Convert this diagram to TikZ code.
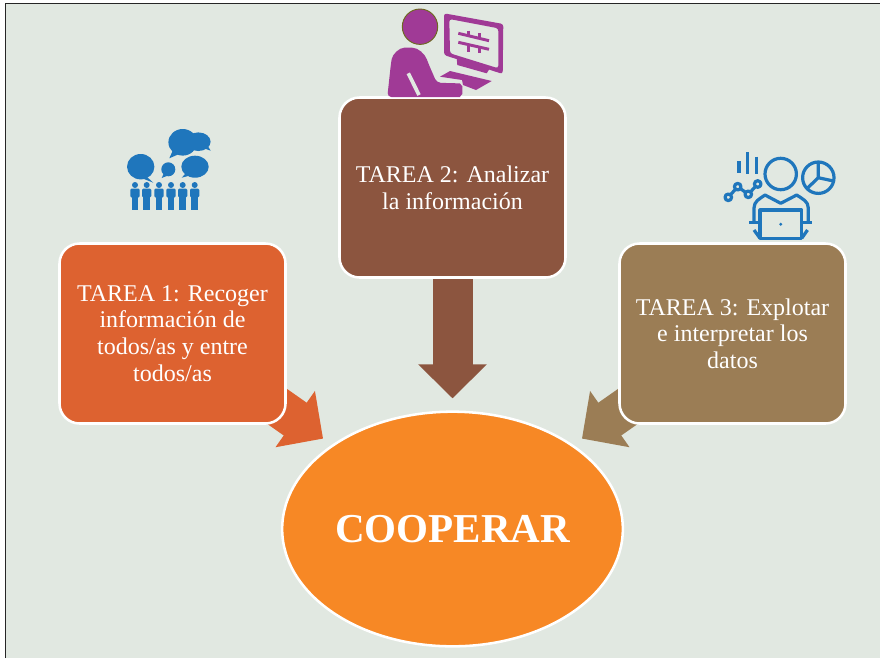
\documentclass[tikz,border=0pt]{standalone}
\usepackage{fontspec}
\setmainfont{Liberation Serif}
\usetikzlibrary{arrows.meta,backgrounds,shapes.geometric}
\definecolor{fondo}{HTML}{E1E8E1}
\definecolor{tareauno}{HTML}{DD6230}
\definecolor{tareados}{HTML}{8C553F}
\definecolor{tareatres}{HTML}{9B7D55}
\definecolor{meta}{HTML}{F78825}
\definecolor{azul}{HTML}{1F76BC}
\definecolor{morado}{HTML}{A03A96}
\tikzset{
  tarea/.style={draw=white,line width=1.9pt,rounded corners=15pt,minimum width=169.5pt,minimum height=135pt,
    inner sep=0pt,outer sep=0pt,text=white,align=center,font=\fontsize{18}{20}\selectfont},
  flecha/.style={line width=30pt,-{Triangle[length=25.5pt,width=50pt]},shorten <=-30pt},
  linea/.style={draw=azul,line width=2.4pt,line join=round}
}
\begin{document}
\begin{tikzpicture}[x=0.75pt,y=-0.75pt]
  \useasboundingbox (0,0) rectangle (880,658);
  \node[tarea,fill=tareauno](T1) at (172.5,333.5) {TAREA 1: Recoger\\información de\\todos/as y entre\\todos/as};
  \node[tarea,fill=tareados](T2) at (452.5,187.5) {TAREA 2: Analizar\\la información};
  \node[tarea,fill=tareatres](T3) at (732.5,333.5) {TAREA 3: Explotar\\e interpretar los\\datos};
  \node[ellipse,draw=white,line width=1.9pt,fill=meta,minimum width=255.5pt,minimum height=176pt,inner sep=0pt,outer sep=0pt,
    text=white,font=\fontsize{30.8}{34}\selectfont\bfseries](C) at (452.5,529) {\makebox[0pt]{COOPERAR}};
  \begin{scope}[on background layer]
    \fill[fondo] (5.5,3.5) rectangle (880,658);
    \draw[line width=1.1pt,black!85] (5.5,658) -- (5.5,3.5) -- (880,3.5);
    \draw[flecha,tareauno,shorten >=9pt] (T1) -- (C);
    \draw[flecha,tareados,shorten >=10pt] (T2) -- (C);
    \draw[flecha,tareatres,shorten >=9pt] (T3) -- (C);
  \end{scope}
  % personas
  \foreach \x in {135,146.7,159,171,182.7,194.7}{
    \fill[azul] (\x,185) circle (3);
    \fill[azul,rounded corners=1pt] (\x-4.6,188.5) rectangle (\x+4.6,197.5);
    \fill[azul] (\x-3.4,190) rectangle (\x-0.2,210);
    \fill[azul] (\x+0.2,190) rectangle (\x+3.4,210);
  }
  % bocadillos
  \fill[azul] (140.7,166.7) ellipse (13.7 and 12.7);
  \fill[azul] (147,177) -- (153.3,182.7) -- (144,179) -- cycle;
  \fill[azul] (168.3,169.3) circle (7);
  \fill[azul] (164,173) -- (161.7,178) -- (168,175.5) -- cycle;
  \fill[azul] (195,166.7) ellipse (13.7 and 11);
  \fill[azul] (186,173) -- (181.7,177.7) -- (190,175.5) -- cycle;
  \fill[azul] (198.3,141.7) ellipse (12.3 and 9.3);
  \fill[azul] (203,148) -- (210.7,150.7) -- (206,143) -- cycle;
  \fill[azul] (182.7,142.3) ellipse (14.3 and 13.3);
  \fill[azul] (173,150) -- (169.3,158.3) -- (178,154.5) -- cycle;
  % persona con ordenador
  \fill[morado,draw=olive!70!black,line width=0.7pt] (420,26.7) circle (17.7);
  \fill[morado,rounded corners=3pt] (387.3,97) -- (391,63) to[out=80,in=180] (408.3,47.7) to[out=0,in=110] (428.3,63.3)
    -- (436.7,82.7) -- (456,83.3) to[out=0,in=90] (462.3,90) to[out=-90,in=0] (456,97) -- cycle;
  \draw[fondo,line width=2.8pt] (408.3,73.3) -- (419,95);
  \fill[morado,rounded corners=2pt,even odd rule] (444,13.3) -- (503.3,24) -- (502.7,74) -- (444,55) -- cycle
    (449.3,19) -- (498.3,28.3) -- (498.3,68.3) -- (450,53.3) -- cycle;
  \fill[morado] (456.7,58) -- (490,68) -- (486.7,73.3) -- (457.3,65) -- cycle;
  \fill[morado] (440,76.7) -- (450,71) -- (491.7,81) -- (476,90) -- (463,85) -- (462,80) -- cycle;
  \draw[morado,line width=2.2pt] (458.3,33.3) -- (489,40.7) (458.3,42.3) -- (489,49.3);
  \draw[morado,line width=1.8pt] (468.3,30.7) -- (468.3,36) (479.5,33) -- (479.5,38.5)
    (468.3,45) -- (468.3,51.7) (479.5,47) -- (479.5,53.3);
  % persona con datos
  \draw[linea] (780.7,174) circle (15.7);
  \draw[linea] (818.3,177.7) circle (15.7) (818.3,162) -- (818.3,177.7) -- (833.5,181) (818.3,177.7) -- (806.5,189);
  \draw[linea] (739,161) -- (739,173.3) (747.7,152.3) -- (747.7,174.3) (756.7,156.7) -- (756.7,174.3);
  \draw[linea] (728.3,197.3) circle (3.3) (737.7,186.7) circle (3.3) (748.3,194.3) circle (3.3) (757.7,184) circle (3.3);
  \draw[linea] (730.5,194.8) -- (735.5,189.2) (740.4,188.6) -- (745.6,192.4) (750.5,191.9) -- (755.5,186.4);
  \draw[linea] (754,222.3) -- (754,208) to[out=90,in=215] (765,195) -- (780.7,203.3) -- (796.7,195) to[out=-35,in=90] (808.3,208) -- (808.3,222.3);
  \draw[linea] (760,238.3) -- (760,210) -- (801.7,210) -- (801.7,238.3) -- cycle;
  \draw[linea] (749.3,222.3) -- (760,222.3) (801.7,222.3) -- (812.3,222.3);
  \draw[linea] (754,230) -- (760,238.3) (807.5,230) -- (801.7,238.3);
  \fill[azul] (780.7,224.3) circle (1.6);
\end{tikzpicture}
\end{document}
